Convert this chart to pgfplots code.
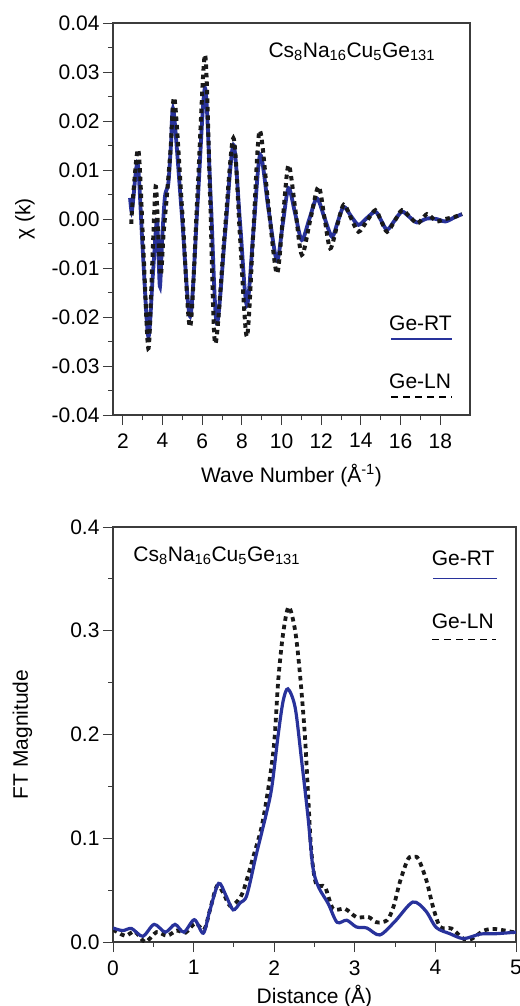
\documentclass[border=0pt]{standalone}
\usepackage{fontspec}
\setmainfont{Liberation Sans}
\usepackage{pgfplots}
\pgfplotsset{compat=1.18}
\definecolor{rtblue}{RGB}{40,50,155}
\definecolor{axgray}{RGB}{60,60,60}
\newcommand{\fs}{\fontsize{21bp}{25bp}\selectfont}
\begin{document}
\begin{tikzpicture}[x=1bp,y=1bp]
\path[use as bounding box] (0bp,0bp) rectangle (520bp,-1006bp);
\pgfplotsset{
  myax/.style={
    scale only axis,
    axis line style={axgray, line width=1.2bp},
    tick style={axgray, line width=1bp},
    tick align=outside,
    major tick length=10bp,
    minor tick length=5bp,
    xtick pos=bottom, ytick pos=left,
    scaled y ticks=false, scaled x ticks=false,
    tick label style={font=\fs},
    xticklabel style={yshift=-5bp},
    label style={font=\fs},
    clip=true,
  },
  rt/.style={rtblue, line width=3.8bp, smooth},
  ln/.style={black!90, line width=4bp, smooth, dash pattern=on 4.5bp off 4bp},
}
% ---------- top axis ----------
\begin{axis}[myax, at={(113bp,-23bp)}, anchor=north west,
  width=357bp, height=392bp,
  xmin=1.5, xmax=19.5, ymin=-0.04, ymax=0.04,
  xtick={2,4,6,8,10,12,14,16,18},
  xticklabels={2,4,6,8,10,12,14,16,18},
  minor x tick num=1,
  ytick={-0.04,-0.03,-0.02,-0.01,0,0.01,0.02,0.03,0.04},
  yticklabels={-0.04,-0.03,-0.02,-0.01,0.00,0.01,0.02,0.03,0.04},
  minor y tick num=1,
  xlabel={Wave Number (Å\textsuperscript{-1})},
  xlabel style={at={(axis description cs:0.5,0)}, anchor=base, yshift=-67bp},
  ylabel={χ (k)},
  ylabel style={at={(axis description cs:-0.2465,0.5)}, anchor=center},
]
\addplot[rt] coordinates {
(2.36,0.0043) (2.44,0.0015) (2.52,0.0040) (2.75,0.0112) (3.0,-0.0064)
(3.28,-0.0240) (3.50,-0.012) (3.71,-0.0002) (3.79,-0.007) (3.87,-0.0138)
(3.98,-0.004) (4.12,0.0046) (4.29,0.0073) (4.42,0.015) (4.55,0.0222)
(4.97,0.001) (5.39,-0.0199) (5.77,0.0035) (6.14,0.0267) (6.44,0.003)
(6.73,-0.0213) (7.15,-0.003) (7.57,0.0151) (7.91,-0.001) (8.25,-0.0176)
(8.59,-0.002) (8.92,0.0131) (9.34,0.002) (9.76,-0.0084) (10.06,-0.001)
(10.35,0.0063) (10.69,0.001) (11.02,-0.0043) (11.40,0.000) (11.78,0.0042)
(12.16,0.0003) (12.54,-0.0036) (12.84,-0.0005) (13.13,0.0025) (13.50,0.0006)
(13.88,-0.0012) (14.30,0.0002) (14.73,0.0015) (15.02,-0.0003) (15.32,-0.0022)
(15.70,-0.0003) (16.07,0.0015) (16.45,0.0004) (16.83,-0.0007) (17.33,0.0001)
(17.80,0.0000) (18.26,-0.0005) (18.70,0.0003) (19.10,0.0010)
};
\addplot[ln] coordinates {
(2.42,-0.0010) (2.50,0.0040) (2.78,0.0141) (3.03,-0.006) (3.28,-0.0264)
(3.47,-0.010) (3.65,0.0066) (3.78,-0.003) (3.91,-0.0115) (4.05,-0.003)
(4.20,0.0040) (4.40,0.014) (4.60,0.0246) (5.00,0.001) (5.39,-0.0220)
(5.77,0.006) (6.14,0.0335) (6.40,0.004) (6.65,-0.0254) (7.11,-0.004)
(7.57,0.0165) (7.91,-0.004) (8.25,-0.0240) (8.57,-0.003) (8.89,0.0180)
(9.33,0.003) (9.76,-0.0111) (10.06,0.000) (10.35,0.0110) (10.69,0.002)
(11.02,-0.0073) (11.44,-0.0003) (11.86,0.0066) (12.16,0.0003) (12.45,-0.0060)
(12.79,-0.0015) (13.13,0.0029) (13.50,0.0002) (13.88,-0.0026) (14.30,-0.0004)
(14.73,0.0018) (15.02,-0.0004) (15.32,-0.0026) (15.70,-0.0004) (16.07,0.0018)
(16.45,0.0005) (16.83,-0.0009) (17.08,0.0000) (17.33,0.0010) (17.58,0.0003)
(17.83,-0.0005) (18.26,0.0000) (18.70,0.0004) (19.10,0.0010)
};
\end{axis}
% ---------- bottom axis ----------
\begin{axis}[myax, at={(113bp,-527bp)}, anchor=north west,
  width=403bp, height=415bp,
  xmin=0, xmax=5, ymin=0, ymax=0.4,
  xtick={0,1,2,3,4,5}, xticklabels={0,1,2,3,4,5},
  minor x tick num=1,
  ytick={0,0.1,0.2,0.3,0.4}, yticklabels={0.0,0.1,0.2,0.3,0.4},
  minor y tick num=1,
  xlabel={Distance (Å)},
  xlabel style={at={(axis description cs:0.5,0)}, anchor=base, yshift=-61bp},
  ylabel={FT Magnitude},
  ylabel style={at={(axis description cs:-0.225,0.5)}, anchor=center},
]
\addplot[ln, line width=3.8bp] coordinates {
(0.00,0.012) (0.15,0.006) (0.27,0.010) (0.40,0.000) (0.54,0.0095)
(0.67,0.006) (0.79,0.011) (0.90,0.009) (1.02,0.018) (1.13,0.012)
(1.20,0.030) (1.29,0.054) (1.37,0.047) (1.45,0.035) (1.55,0.040)
(1.62,0.050) (1.74,0.082) (1.86,0.117) (1.99,0.184) (2.05,0.252)
(2.11,0.297) (2.18,0.323) (2.26,0.300) (2.32,0.258) (2.38,0.200)
(2.42,0.143) (2.46,0.088) (2.52,0.056) (2.63,0.053) (2.73,0.032)
(2.88,0.032) (3.02,0.024) (3.17,0.024) (3.27,0.019) (3.40,0.021)
(3.48,0.034) (3.56,0.058) (3.66,0.080) (3.73,0.082) (3.79,0.080)
(3.89,0.059) (3.97,0.034) (4.06,0.0145) (4.20,0.013) (4.35,0.003)
(4.45,0.003) (4.60,0.011) (4.74,0.0125) (4.97,0.0095) (5.0,0.0095)
};
\addplot[rt, line width=3.2bp] coordinates {
(0.00,0.0135) (0.12,0.011) (0.23,0.013) (0.37,0.0055) (0.51,0.017)
(0.65,0.0095) (0.77,0.017) (0.88,0.0095) (1.01,0.0215) (1.12,0.0085)
(1.20,0.030) (1.31,0.0565) (1.40,0.045) (1.49,0.031) (1.58,0.038)
(1.66,0.045) (1.78,0.085) (1.90,0.123) (1.97,0.149) (2.05,0.200)
(2.11,0.232) (2.17,0.2440) (2.26,0.226) (2.34,0.175) (2.42,0.120)
(2.48,0.072) (2.55,0.053) (2.67,0.037) (2.78,0.019) (2.90,0.021)
(3.02,0.0145) (3.15,0.0135) (3.31,0.0068) (3.50,0.020) (3.72,0.0385)
(3.88,0.030) (4.01,0.014) (4.18,0.008) (4.35,0.0033) (4.56,0.0077)
(4.75,0.008) (5.0,0.0095)
};
\end{axis}
% ---------- annotations ----------
\node[anchor=base west, inner sep=0pt, font=\fs] at (268.3,-57.3) {Cs\textsubscript{8}Na\textsubscript{16}Cu\textsubscript{5}Ge\textsubscript{131}};
\node[anchor=base west, inner sep=0pt, font=\fs] at (389,-330.7) {Ge-RT};
\draw[rtblue, line width=1.3bp] (391,-339) -- (452,-339);
\node[anchor=base west, inner sep=0pt, font=\fs] at (389,-388.3) {Ge-LN};
\draw[black, line width=1.3bp, dash pattern=on 6.5bp off 5.5bp] (391,-397) -- (452,-397);
\node[anchor=base west, inner sep=0pt, font=\fs] at (133.3,-561.7) {Cs\textsubscript{8}Na\textsubscript{16}Cu\textsubscript{5}Ge\textsubscript{131}};
\node[anchor=base west, inner sep=0pt, font=\fs] at (431.7,-565.7) {Ge-RT};
\draw[rtblue, line width=1.3bp] (433,-578.3) -- (497,-578.3);
\node[anchor=base west, inner sep=0pt, font=\fs] at (431.7,-628.3) {Ge-LN};
\draw[black, line width=1.3bp, dash pattern=on 6.5bp off 5.5bp] (432,-639.3) -- (496,-639.3);
\end{tikzpicture}
\end{document}
